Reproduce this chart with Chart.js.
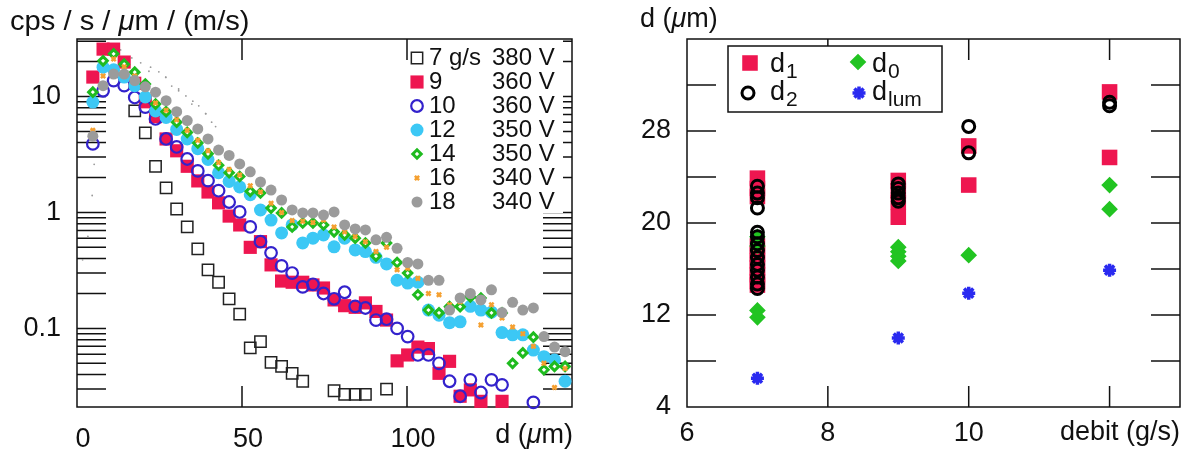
<!DOCTYPE html>
<html>
<head>
<meta charset="utf-8">
<script src="https://cdn.jsdelivr.net/npm/chart.js@4.4.1/dist/chart.umd.min.js"></script>
<style>
  html, body { margin: 0; padding: 0; background: #fff; }
  #wrap { position: relative; width: 1194px; height: 455px; overflow: hidden;
          font-family: "Liberation Sans", Arial, Helvetica, sans-serif; color: #111; }
  canvas { position: absolute; top: 0; }
  #left { left: 0; }
  #right { left: 597px; }
  .lbl { position: absolute; font-size: 27px; line-height: 1; white-space: nowrap; transform-origin: 0 0; }
  .wide { transform: scaleX(1.08); }
</style>
</head>
<body>
<div id="wrap">
  <canvas id="left" width="597" height="455"></canvas>
  <canvas id="right" width="597" height="455"></canvas>
  <div class="lbl wide" style="left:10px; top:8px">cps / s / <i>μ</i>m / (m/s)</div>
  <div class="lbl" style="left:640px; top:5px">d (<i>μ</i>m)</div>
  <div class="lbl" style="right:621px; top:421px">d (<i>μ</i>m)</div>
  <div class="lbl" style="right:14px; top:418px">debit (g/s)</div>
</div>
<script>
// ---- left panel: size distributions, one array per flow rate ----
const dBins = [4.8, 7.9, 11.1, 14.3, 17.5, 20.7, 23.8, 27.0, 30.2, 33.4, 36.6, 39.7, 42.9, 46.1, 49.3,
  52.5, 55.6, 58.8, 62.0, 65.2, 68.4, 71.5, 74.7, 77.9, 81.1, 84.3, 87.4, 90.6, 93.8, 97.0, 100.2,
  103.3, 106.5, 109.7, 112.9, 116.1, 119.2, 122.4, 125.6, 128.8, 132.0, 135.1, 138.3, 141.5, 144.7, 147.9];

const rates = ["7 g/s", "9", "10", "12", "14", "16", "18"];
const volts = ["380 V", "360 V", "360 V", "350 V", "350 V", "340 V", "340 V"];

const g7 = [null, null, null, null, 7.5, 4.85, 2.5, 1.63, 1.07, 0.75, 0.485, 0.32, 0.25, 0.18, 0.133,
  0.068, 0.077, 0.051, 0.047, 0.041, 0.035, null, null, 0.029, 0.027, 0.027, 0.027, null, 0.030];
const g9 = [14.7, 25.6, 25.6, 19.8, 13, 9, 6.7, 4.3, 3.4, 2.5, 1.87, 1.5, 1.21, 0.93, 0.78, 0.50, 0.56,
  0.353, 0.256, 0.25, 0.25, 0.237, 0.223, 0.176, 0.157, 0.152, 0.166, 0.14, 0.118, 0.0525, 0.059,
  0.069, 0.067, 0.041, 0.052, 0.026, 0.0295, 0.0235, null, 0.0235];
const g10 = [3.9, 11.2, 13.7, 12.4, 9.8, 8.1, 6.4, 4.3, 3.67, 2.89, 2.28, 1.88, 1.54, 1.23, 1.01, 0.75,
  0.56, 0.448, 0.346, 0.30, 0.228, 0.24, 0.20, 0.18, 0.205, 0.155, 0.15, 0.118, 0.12, 0.10, 0.085,
  0.059, 0.059, 0.05, 0.035, 0.026, 0.036, 0.028, 0.036, 0.0326, null, null, 0.023];
const g12 = [8.95, 17.9, 17, 14.7, 12.4, 9.9, 7.5, 6.6, 5.2, 4.3, 3.55, 2.86, 2.2, 1.85, 1.66, 1.42,
  1.05, 0.86, 0.666, 0.78, 0.546, 0.6, 0.64, 0.505, 0.6, 0.475, 0.46, 0.41, 0.36, 0.26, 0.246, 0.25,
  0.144, 0.13, 0.112, 0.114, 0.155, 0.144, 0.138, 0.092, 0.088, 0.088, 0.065, 0.057, 0.0535, 0.035];
const g14 = [10.9, 20.3, 23.3, 19.0, 16.2, 12.8, 8.6, 7.4, 6.0, 4.9, 3.97, 3.2, 2.55, 2.2, 2.04, 1.52,
  1.47, 1.09, 0.99, 0.75, 0.81, 0.81, 0.78, 0.68, 0.64, 0.6, 0.545, 0.42, 0.545, 0.37, 0.30, 0.195,
  0.144, 0.136, 0.154, 0.154, 0.187, 0.183, 0.136, 0.136, 0.05, 0.0615, 0.084, 0.044, 0.047, 0.047];
const g16 = [5.1, 15, 21, 18, 15, 12, 8.8, 7.6, 6.3, 5.1, 4.2, 3.4, 2.7, 2.35, 2.1, 1.7, 1.5, 1.2, 1.0,
  0.85, 0.84, 0.82, 0.86, 0.75, 0.68, 0.62, 0.56, 0.46, 0.5, 0.32, 0.33, 0.27, 0.2, 0.195, 0.16, 0.17,
  0.19, 0.107, 0.16, 0.123, 0.103, 0.09, 0.07, 0.05, 0.031, 0.045];
const g18 = [4.55, 12.4, 15.6, 15.6, 13.7, 12.1, 10.9, 9.2, 7.4, 6.2, 5.25, 4.3, 3.45, 3.1, 2.62, 2.24,
  1.83, 1.56, 1.28, 1.05, 0.99, 0.99, 0.95, 1.01, 0.78, 0.72, 0.706, 0.58, 0.61, 0.49, 0.37, 0.36,
  0.26, 0.26, 0.144, 0.183, 0.2, 0.176, 0.215, 0.137, 0.168, 0.144, 0.15, 0.085, 0.069, 0.063];

// faint dotted trace in the background
const traceD = [13.2, 16.6, 19.3, 22.3, 24.8, 26.9, 28.7, 30.8, 33.0, 35.1, 36.9, 39.0, 40.8,
  21.8, 26.9, 30.8, 34.8, 39.0, 42.0, 5.2, 4.6, 3.3, 1.7];
const traceY = [25.2, 21.5, 19.5, 17.9, 16.3, 14.6, 12.3, 11.2, 10.1, 9.1, 8.3, 7.1, 6.0,
  16.5, 14.7, 11.6, 8.6, 7.1, 5.5, 2.6, 1.4, 0.62, 0.39];

const leftXTicks = [0, 50, 100, 150];
const leftYLabels = [0.1, 1, 10];
const logDecades = [0.01, 0.1, 1, 10];
const logMults = [1, 2, 3, 4, 5, 6, 7, 8, 9];

// ---- right panel: diameters vs flow rate ----
const d1Debit = [7, 7, 7, 7, 7, 7, 7, 7, 7, 7, 9, 9, 9, 9, 10, 10, 12, 12];
const d1Vals = [23.9, 23.0, 22.3, 18.0, 17.3, 16.7, 16.1, 15.5, 14.9, 14.6, 23.7, 22.8, 21.8, 20.5,
  26.7, 23.3, 31.4, 25.7];
const d2Debit = [7, 7, 7, 7, 7, 7, 7, 7, 7, 7, 7, 7, 7, 7, 9, 9, 9, 9, 9, 10, 10, 12, 12];
const d2Vals = [23.2, 22.6, 22.2, 21.3, 19.2, 18.8, 18.2, 17.6, 17.0, 16.4, 15.9, 15.3, 14.7, 14.3,
  23.4, 23.0, 22.6, 22.2, 21.9, 28.4, 26.1, 30.5, 30.2];
const d0Debit = [7, 7, 7, 7, 9, 9, 9, 9, 10, 12, 12];
const d0Vals = [18.8, 18.0, 12.4, 11.8, 17.9, 17.5, 17.1, 16.7, 17.2, 23.3, 21.2];
const lumDebit = [7, 9, 10, 12];
const lumVals = [6.5, 10.0, 13.9, 15.9];

const rightXTicks = [6, 8, 10, 12];
const rightYLabels = [4, 12, 20, 28];
const rightYMinor = [8, 12, 16, 20, 24, 28, 32];

const FONT = "'Liberation Sans', Arial, Helvetica, sans-serif";
const INK = "#111";

function pts(xs, ys) {
  return xs.map((x, i) => ({ x, y: ys[i] })).filter(p => p.y != null);
}

function drawSymbol(ctx, ds, x, y) {
  ctx.save();
  ctx.fillStyle = ds.backgroundColor || "rgba(0,0,0,0)";
  ctx.strokeStyle = ds.borderColor || ds.backgroundColor;
  ctx.lineWidth = ds.borderWidth || 0;
  Chart.helpers.drawPoint(ctx, { pointStyle: ds.pointStyle, radius: ds.pointRadius, borderWidth: ds.borderWidth || 0, rotation: 0 }, x, y);
  ctx.restore();
}

// inward ticks on all four sides plus the frame
const frameTicks = {
  id: "frameTicks",
  beforeDatasetsDraw(chart, args, o) {
    const { ctx, chartArea: a, scales } = chart;
    ctx.save();
    ctx.strokeStyle = INK;
    ctx.lineWidth = 1.5;
    ctx.beginPath();
    o.xs.forEach(v => {
      const px = scales.x.getPixelForValue(v);
      ctx.moveTo(px, a.bottom); ctx.lineTo(px, a.bottom - o.xLen);
      ctx.moveTo(px, a.top); ctx.lineTo(px, a.top + o.xLen);
    });
    o.ys.forEach(v => {
      const py = scales.y.getPixelForValue(v);
      ctx.moveTo(a.left, py); ctx.lineTo(a.left + o.yLen, py);
      ctx.moveTo(a.right, py); ctx.lineTo(a.right - o.yLen, py);
    });
    ctx.stroke();
    ctx.strokeRect(a.left, a.top, a.right - a.left, a.bottom - a.top);
    ctx.restore();
  }
};

const leftKey = {
  id: "leftKey",
  afterDatasetsDraw(chart) {
    const ctx = chart.ctx;
    ctx.save();
    ctx.fillStyle = "#fff";
    ctx.fillRect(409, 40, 154, 173);
    ctx.font = "24px " + FONT;
    ctx.textBaseline = "middle";
    chart.data.datasets.filter(ds => ds.rate).forEach((ds, i) => {
      const y = 58 + 24 * i;
      drawSymbol(ctx, ds, 417, y);
      ctx.fillStyle = INK;
      ctx.fillText(ds.rate, 429, y);
      ctx.fillText(ds.volt, 492, y);
    });
    ctx.restore();
  }
};

const rightKey = {
  id: "rightKey",
  afterDatasetsDraw(chart) {
    const ctx = chart.ctx;
    const sets = chart.data.datasets;
    ctx.save();
    ctx.fillStyle = "#fff";
    ctx.fillRect(131, 46, 214, 66);
    ctx.strokeStyle = INK;
    ctx.lineWidth = 1.5;
    ctx.strokeRect(131, 46, 214, 66);
    const rows = [
      { ds: sets.find(d => d.sub === "1"), sx: 153, sy: 63, tx: 173, ty: 72 },
      { ds: sets.find(d => d.sub === "2"), sx: 151, sy: 93, tx: 173, ty: 100 },
      { ds: sets.find(d => d.sub === "0"), sx: 261, sy: 62, tx: 275, ty: 72 },
      { ds: sets.find(d => d.sub === "lum"), sx: 262, sy: 93, tx: 275, ty: 100 }
    ];
    rows.forEach(r => {
      drawSymbol(ctx, r.ds, r.sx, r.sy);
      ctx.fillStyle = INK;
      ctx.textBaseline = "alphabetic";
      ctx.font = "27px " + FONT;
      ctx.fillText("d", r.tx, r.ty);
      const w = ctx.measureText("d").width;
      ctx.font = "21px " + FONT;
      ctx.fillText(r.ds.sub, r.tx + w + 1, r.ty + 6);
    });
    ctx.restore();
  }
};

function tickOpts(pad, extra) {
  return Object.assign({ font: { family: FONT, size: 27 }, color: INK, padding: pad, autoSkip: false, maxRotation: 0 }, extra);
}

const noGrid = { display: false, drawTicks: false };

function initLeft() {
  const yMinor = logDecades.flatMap(d => logMults.map(m => +(d * m).toPrecision(2)))
    .filter(v => v > 0.021 && v < 31.3);
  const styles = [
    { pointStyle: "rect", pointRadius: 8, backgroundColor: "rgba(0,0,0,0)", borderColor: "#222", borderWidth: 1.5 },
    { pointStyle: "rect", pointRadius: 9.3, backgroundColor: "#ee1650", borderWidth: 0 },
    { pointStyle: "circle", pointRadius: 5.8, backgroundColor: "rgba(0,0,0,0)", borderColor: "#3322cc", borderWidth: 2.2 },
    { pointStyle: "circle", pointRadius: 6.5, backgroundColor: "#3cc8f5", borderWidth: 0 },
    { pointStyle: "rectRot", pointRadius: 4.2, backgroundColor: "#fff", borderColor: "#1fbb1f", borderWidth: 3 },
    { pointStyle: "crossRot", pointRadius: 3, backgroundColor: "#f5a030", borderColor: "#f5a030", borderWidth: 2.5 },
    { pointStyle: "circle", pointRadius: 5.5, backgroundColor: "#9b9b9b", borderWidth: 0 }
  ];
  const series = [g7, g9, g10, g12, g14, g16, g18];
  const datasets = [
    { label: "trace", data: pts(traceD, traceY), pointStyle: "circle", pointRadius: 0.9,
      backgroundColor: "#9a9a9a", borderWidth: 0, order: 20 }
  ].concat(series.map((ys, i) => Object.assign({
    label: rates[i], rate: rates[i], volt: volts[i], data: pts(dBins, ys), order: 10 - i
  }, styles[i])));

  new Chart(document.getElementById("left"), {
    type: "scatter",
    data: { datasets },
    plugins: [frameTicks, leftKey],
    options: {
      responsive: false,
      animation: false,
      devicePixelRatio: 1,
      events: [],
      clip: false,
      layout: { padding: { top: 39, right: 25, left: 0, bottom: 0 } },
      plugins: {
        legend: { display: false },
        tooltip: { enabled: false },
        frameTicks: { xs: [50, 100], xLen: 21, ys: yMinor, yLen: 29 }
      },
      scales: {
        x: {
          type: "linear", min: 0, max: 150,
          afterBuildTicks: s => { s.ticks = leftXTicks.map(v => ({ value: v })); },
          ticks: tickOpts(16, { labelOffset: 6, callback: v => (v === 150 ? "" : String(v)) }),
          grid: noGrid, border: { display: false },
          afterFit: s => { s.height = 48; }
        },
        y: {
          type: "logarithmic", min: 0.021, max: 31.3,
          afterBuildTicks: s => { s.ticks = leftYLabels.map(v => ({ value: v })); },
          ticks: tickOpts(16, { callback: v => String(v) }),
          grid: noGrid, border: { display: false },
          afterFit: s => { s.width = 77; }
        }
      }
    }
  });
}

function initRight() {
  const datasets = [
    { label: "d1", sub: "1", data: pts(d1Debit, d1Vals), pointStyle: "rect", pointRadius: 11,
      backgroundColor: "#ee1650", borderWidth: 0, order: 4 },
    { label: "d0", sub: "0", data: pts(d0Debit, d0Vals), pointStyle: "rectRot", pointRadius: 5.5,
      backgroundColor: "#22c422", borderColor: "#22c422", borderWidth: 4, order: 3 },
    { label: "d2", sub: "2", data: pts(d2Debit, d2Vals), pointStyle: "circle", pointRadius: 6,
      backgroundColor: "rgba(0,0,0,0)", borderColor: "#000", borderWidth: 3, order: 2 },
    { label: "dlum", sub: "lum", data: pts(lumDebit, lumVals), pointStyle: "star", pointRadius: 6.5,
      backgroundColor: "#2a2af0", borderColor: "#2a2af0", borderWidth: 3.5, order: 1 }
  ];

  new Chart(document.getElementById("right"), {
    type: "scatter",
    data: { datasets },
    plugins: [frameTicks, rightKey],
    options: {
      responsive: false,
      animation: false,
      devicePixelRatio: 1,
      events: [],
      clip: false,
      layout: { padding: { top: 39, right: 14, left: 0, bottom: 0 } },
      plugins: {
        legend: { display: false },
        tooltip: { enabled: false },
        frameTicks: { xs: [8, 10, 12], xLen: 21, ys: rightYMinor, yLen: 29 }
      },
      scales: {
        x: {
          type: "linear", min: 6, max: 13,
          afterBuildTicks: s => { s.ticks = rightXTicks.map(v => ({ value: v })); },
          ticks: tickOpts(10, { callback: v => (v === 12 ? "" : String(v)) }),
          grid: noGrid, border: { display: false },
          afterFit: s => { s.height = 48; }
        },
        y: {
          type: "linear", min: 4, max: 36,
          afterBuildTicks: s => { s.ticks = rightYLabels.map(v => ({ value: v })); },
          ticks: tickOpts(16, { callback: v => String(v) }),
          grid: noGrid, border: { display: false },
          afterFit: s => { s.width = 90; }
        }
      }
    }
  });
}

initLeft();
initRight();
</script>
</body>
</html>
